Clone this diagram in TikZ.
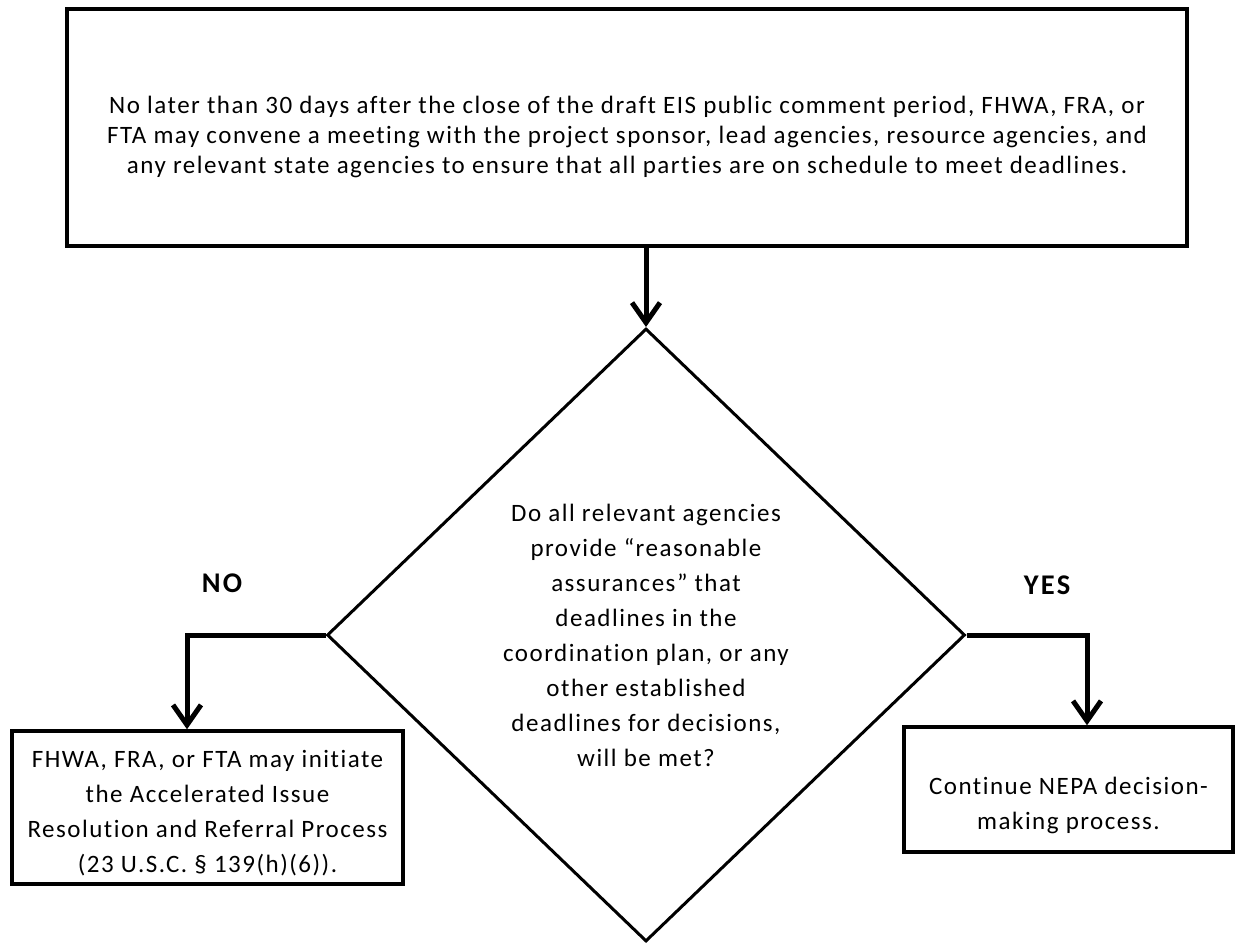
\documentclass[tikz,border=0pt]{standalone}
\usepackage{fontspec}
\setmainfont{Carlito}
\newfontfamily\spaced[LetterSpace=6,Ligatures={NoCommon}]{Carlito}
\newfontfamily\spacedlbl[LetterSpace=8,Ligatures={NoCommon}]{Carlito}
\usetikzlibrary{arrows.meta,shapes.geometric}
\begin{document}
\begin{tikzpicture}[x=1pt,y=-1pt,
  boxstyle/.style={draw, line width=4pt, inner sep=0pt},
  conn/.style={line width=5pt, -{Straight Barb[length=20pt,width=28pt]}},
  lbl/.style={font=\spacedlbl\fontsize{28.5}{30}\selectfont\bfseries},
  txt/.style={font=\spaced\fontsize{25}{35}\selectfont, align=center, inner sep=0pt},
  toptxt/.style={font=\spaced\fontsize{25}{30}\selectfont, align=center, inner sep=0pt}]
\useasboundingbox (0,0) rectangle (1238,942);
% top box
\node[boxstyle, minimum width=1120, minimum height=237] (top) at (627,127.5) {};
\node[toptxt] (toptext) at (627,137) {No later than 30 days after the close of the draft EIS public comment period, FHWA, FRA, or\\
FTA may convene a meeting with the project sponsor, lead agencies, resource agencies, and\\
any relevant state agencies to ensure that all parties are on schedule to meet deadlines.};
% decision diamond
\node[diamond, draw, line width=3pt, minimum width=638, minimum height=613, inner sep=0pt,
      txt] (dia) at (646,635) {Do all relevant agencies\\
provide “reasonable\\
assurances” that\\
deadlines in the\\
coordination plan, or any\\
other established\\
deadlines for decisions,\\
will be met?};
% left box
\node[boxstyle, line width=3.5pt, minimum width=391, minimum height=153] (lbox) at (207.5,807.5) {};
\node[txt] (ltext) at (207.5,813) {FHWA, FRA, or FTA may initiate\\
the Accelerated Issue\\
Resolution and Referral Process\\
(23 U.S.C. § 139(h)(6)).};
% right box
\node[boxstyle, line width=3.5pt, minimum width=329, minimum height=125] (rbox) at (1068.5,789.5) {};
\node[txt] (rtext) at (1068.5,805.5) {Continue NEPA decision-\\
making process.};
% labels
\node[lbl] (no) at (222,583) {NO};
\node[lbl] (yes) at (1047,585) {YES};
% connectors
\draw[conn] (dia.north |- top.south) -- (dia.north);
\draw[conn] (dia.west) -| ([xshift=-20.5pt]lbox.north);
\draw[conn] (dia.east) -| ([xshift=18.5pt]rbox.north);
\end{tikzpicture}
\end{document}
